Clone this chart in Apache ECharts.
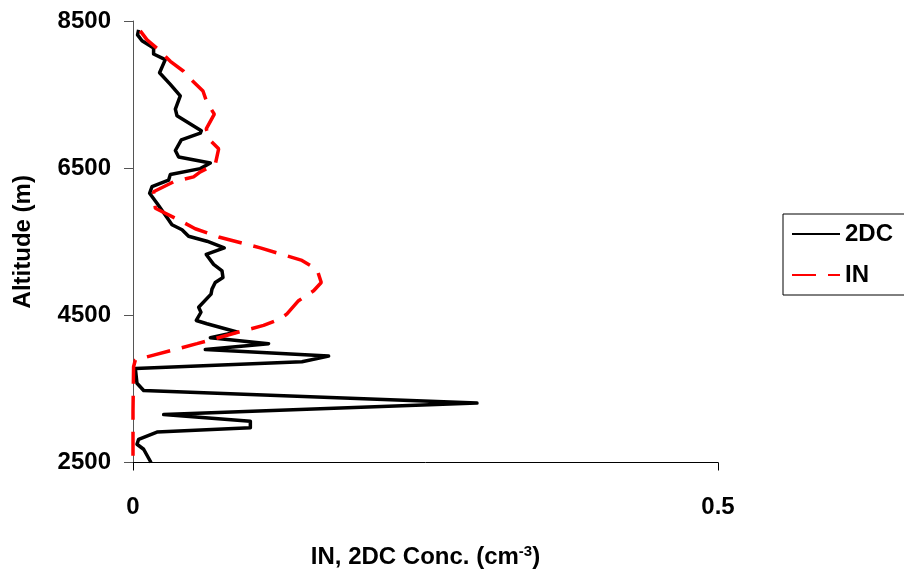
<!DOCTYPE html>
<html>
<head>
<meta charset="utf-8">
<script src="https://cdn.jsdelivr.net/npm/echarts@6/dist/echarts.min.js"></script>
<style>
html,body{margin:0;padding:0;background:#fff;}
#chart{width:904px;height:574px;}
</style>
</head>
<body>
<div id="chart"></div>
<script>
// Series names
var seriesNames = ['2DC', 'IN'];
// 2DC concentration (cm^-3) and altitude (m)
var conc2DC = [0.0048,0.0039,0.0077,0.0176,0.0176,0.0276,0.0227,0.0319,0.0404,0.0362,0.0376,0.0584,0.0575,0.0413,0.0362,0.0390,0.0661,0.0575,0.0319,0.0304,0.0162,0.0142,0.0205,0.0304,0.0333,0.0419,0.0475,0.0632,0.0780,0.0626,0.0689,0.0761,0.0769,0.0703,0.0675,0.0667,0.0561,0.0581,0.0541,0.0632,0.0889,0.0661,0.1159,0.0618,0.1672,0.1444,0.0020,0.0034,0.0091,0.2940,0.0262,0.1003,0.1003,0.0205,0.0048,0.0034,0.0091,0.0154];
var alt2DC  = [8379,8312,8231,8132,8052,7975,7796,7638,7481,7302,7212,7010,6975,6884,6740,6652,6571,6494,6413,6337,6248,6158,6023,5798,5731,5663,5575,5507,5417,5327,5192,5103,5013,4946,4856,4788,4609,4542,4430,4385,4273,4196,4115,4035,3946,3869,3779,3577,3478,3307,3151,3061,2971,2913,2815,2748,2680,2500];
// IN concentration (cm^-3) and altitude (m)
var concIN = [0.0062,0.0120,0.0219,0.0319,0.0432,0.0490,0.0598,0.0632,0.0695,0.0626,0.0661,0.0732,0.0703,0.0575,0.0518,0.0347,0.0176,0.0191,0.0390,0.0532,0.0732,0.1088,0.1444,0.1573,0.1609,0.1544,0.1415,0.1316,0.1259,0.1116,0.0903,0.0547,0.0176,0.0020,0.0005,0.0,0.0];
var altIN  = [8365,8244,8110,7952,7817,7715,7548,7392,7235,7033,6875,6763,6552,6450,6382,6315,6180,5956,5798,5677,5565,5417,5246,5125,4946,4834,4699,4519,4452,4363,4273,4115,3959,3892,3802,3200,2500];
// Axis ticks
var yTicks = [2500, 4500, 6500, 8500];
var xTicks = [0, 0.5];

function pairs(xs, ys){ return xs.map(function(v,i){ return [v, ys[i]]; }); }

var font = 'Liberation Sans, Arial, sans-serif';
var chart = echarts.init(document.getElementById('chart'));
chart.setOption({
  animation: false,
  backgroundColor: '#fff',
  textStyle: {fontFamily: font},
  grid: {left: 133, right: 186, top: 21, bottom: 107, containLabel: false},
  legend: {
    orient: 'vertical', left: 783, top: 214,
    data: seriesNames,
    borderColor: '#000', borderWidth: 1,
    padding: [8, 12, 8, 8],
    itemWidth: 48, itemHeight: 14, itemGap: 17,
    itemStyle: {opacity: 0},
    textStyle: {fontSize: 24, fontWeight: 'bold', color: '#000', fontFamily: font}
  },
  xAxis: {
    type: 'value', min: xTicks[0], max: xTicks[xTicks.length-1], interval: 0.5,
    axisLine: {onZero: false, lineStyle: {color: '#000', width: 1}},
    axisTick: {show: true, length: 8, lineStyle: {color: '#000'}},
    splitLine: {show: false},
    axisLabel: {fontSize: 24, fontWeight: 'bold', color: '#000', margin: 33, fontFamily: font,
      formatter: function(v){ return String(v); }},
    name: 'IN, 2DC Conc. (cm{sup|-3})',
    nameLocation: 'middle', nameGap: 82,
    nameTextStyle: {fontSize: 24, fontWeight: 'bold', color: '#000', fontFamily: font,
      rich: {sup: {fontSize: 15, fontWeight: 'bold', color: '#000', verticalAlign: 'top', padding: [0,0,10,0], fontFamily: font}}}
  },
  yAxis: {
    type: 'value', min: yTicks[0], max: yTicks[yTicks.length-1], interval: 2000,
    axisLine: {onZero: false, lineStyle: {color: '#555', width: 1}},
    axisTick: {show: true, length: 9, lineStyle: {color: '#555'}},
    splitLine: {show: false},
    axisLabel: {fontSize: 24, fontWeight: 'bold', color: '#000', margin: 22, fontFamily: font,
      formatter: function(v){ return String(v); }},
    name: 'Altitude (m)', nameLocation: 'middle', nameGap: 98,
    nameTextStyle: {fontSize: 24, fontWeight: 'bold', color: '#000', fontFamily: font}
  },
  series: [
    {name: seriesNames[0], type: 'line', data: pairs(conc2DC, alt2DC), showSymbol: false, symbol: 'none',
     color: '#000', lineStyle: {color: '#000', width: 3.5, join: 'round'}, z: 2},
    {name: seriesNames[1], type: 'line', data: pairs(concIN, altIN), showSymbol: false, symbol: 'none',
     color: '#ff0000', lineStyle: {color: '#ff0000', width: 3.5, type: [24, 12]}, z: 3}
  ]
});
</script>
</body>
</html>
